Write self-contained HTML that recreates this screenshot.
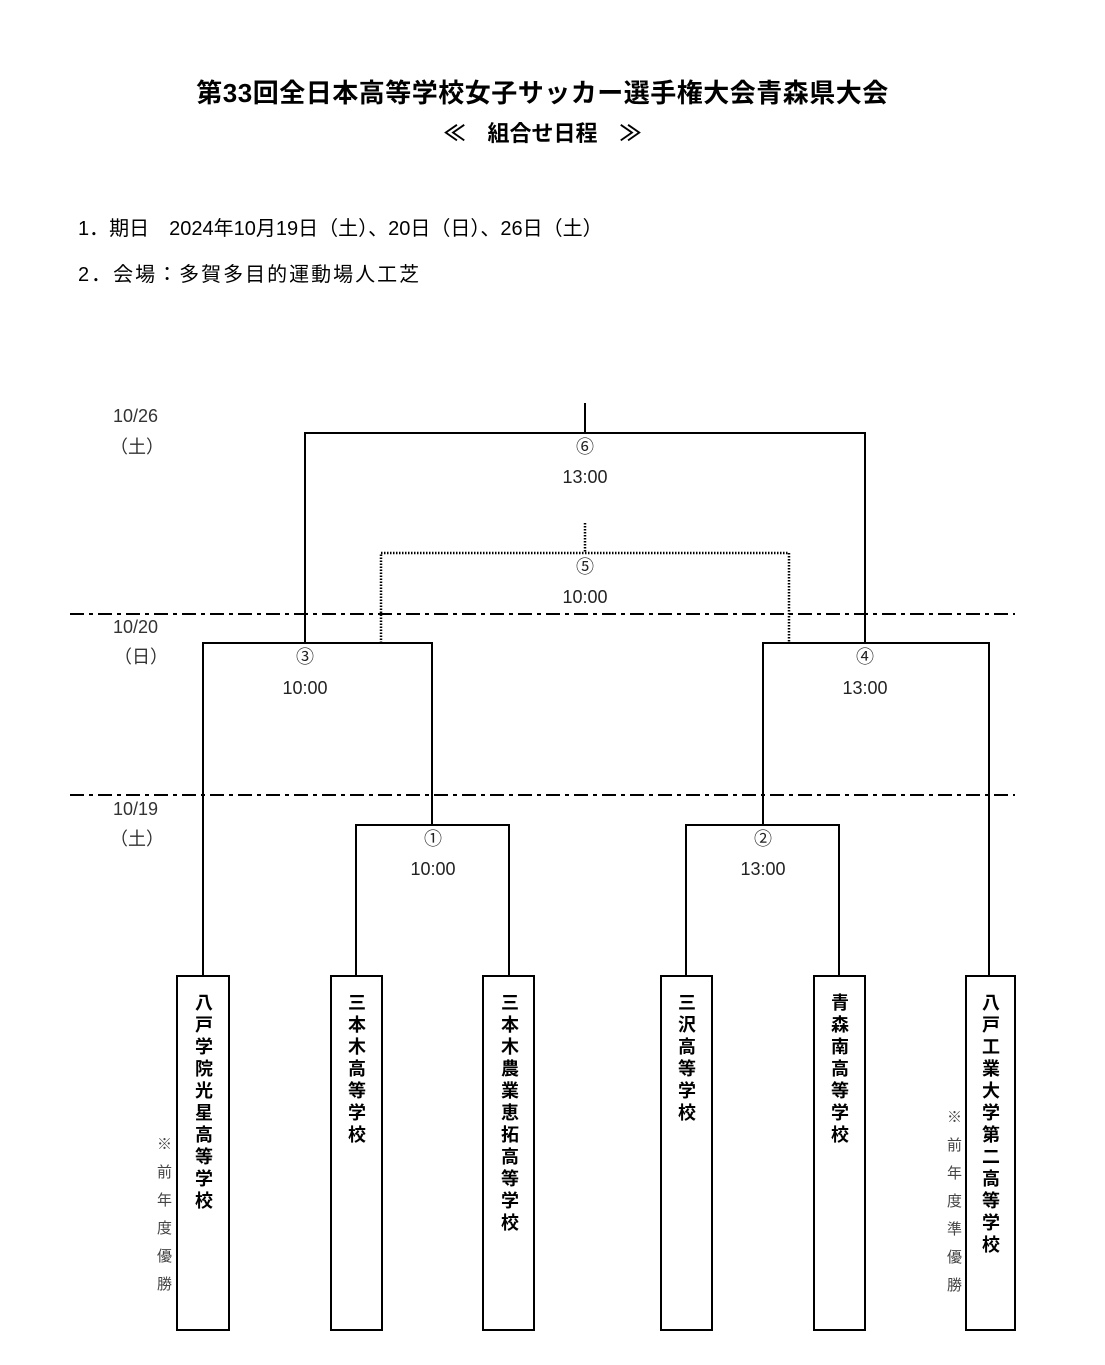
<!DOCTYPE html>
<html><head><meta charset="utf-8"><style>
body{margin:0;background:#fff;}
#w{position:relative;width:1105px;height:1365px;overflow:hidden;font-family:"Liberation Sans","Noto Sans CJK JP",sans-serif;color:#000;}
.v{position:absolute;writing-mode:vertical-rl;font-size:18px;font-weight:bold;letter-spacing:4px;line-height:18px;}
.n{position:absolute;writing-mode:vertical-rl;font-size:15px;color:#444;letter-spacing:13px;line-height:15px;}
.t{position:absolute;white-space:nowrap;}
</style></head><body><div id="w">
<div class="t" style="left:0;width:1085px;text-align:center;top:73px;font-size:26px;font-weight:bold;letter-spacing:0.5px;">第33回全日本高等学校女子サッカー選手権大会青森県大会</div>
<div class="t" style="left:0;width:1085px;text-align:center;top:116px;font-size:22px;font-weight:bold;">≪　組合せ日程　≫</div>
<div class="t" style="left:78px;top:212px;font-size:20px;">1．期日　2024年10月19日（土）、20日（日）、26日（土）</div>
<div class="t" style="left:78px;top:258px;font-size:20px;letter-spacing:2px;">2．会場：多賀多目的運動場人工芝</div>
<svg width="1105" height="1365" style="position:absolute;left:0;top:0" font-family="Liberation Sans, Noto Sans CJK JP, sans-serif">
<g fill="none" stroke="#000" stroke-width="2">
<path d="M585 403V433M305 643V433H865V643"/>
<path d="M203 976V643H432V825M356 976V825H509V976"/>
<path d="M989 976V643H763V825M686 976V825H839V976"/>
<path d="M70 614H1015M70 795H1015" stroke-dasharray="14 5 4 5"/>
<path d="M585 523V553M381 643V553H789V643" stroke-dasharray="1.5 1.5" stroke-width="2.5"/>
<rect x="177" y="976" width="52" height="354"/>
<rect x="331" y="976" width="51" height="354"/>
<rect x="483" y="976" width="51" height="354"/>
<rect x="661" y="976" width="51" height="354"/>
<rect x="814" y="976" width="51" height="354"/>
<rect x="966" y="976" width="49" height="354"/>
</g>
<g font-size="18" text-anchor="middle" fill="#222">
<text x="585" y="453">⑥</text><text x="585" y="483">13:00</text>
<text x="585" y="573">⑤</text><text x="585" y="603">10:00</text>
<text x="305" y="663">③</text><text x="305" y="694">10:00</text>
<text x="865" y="663">④</text><text x="865" y="694">13:00</text>
<text x="433" y="845">①</text><text x="433" y="875">10:00</text>
<text x="763" y="845">②</text><text x="763" y="875">13:00</text>
</g>
<g font-size="18" fill="#333">
<text x="113" y="422">10/26</text><text x="110" y="453">（土）</text>
<text x="113" y="633">10/20</text><text x="114" y="663">（日）</text>
<text x="113" y="815">10/19</text><text x="110" y="845">（土）</text>
</g>
</svg>
<div class="v" style="left:194px;top:993px;">八戸学院光星高等学校</div>
<div class="v" style="left:347px;top:993px;">三本木高等学校</div>
<div class="v" style="left:500px;top:993px;">三本木農業恵拓高等学校</div>
<div class="v" style="left:677px;top:993px;">三沢高等学校</div>
<div class="v" style="left:830px;top:993px;">青森南高等学校</div>
<div class="v" style="left:981px;top:993px;">八戸工業大学第二高等学校</div>
<div class="n" style="left:156px;top:1136px;">※前年度優勝</div>
<div class="n" style="left:946px;top:1109px;">※前年度準優勝</div>
</div></body></html>
